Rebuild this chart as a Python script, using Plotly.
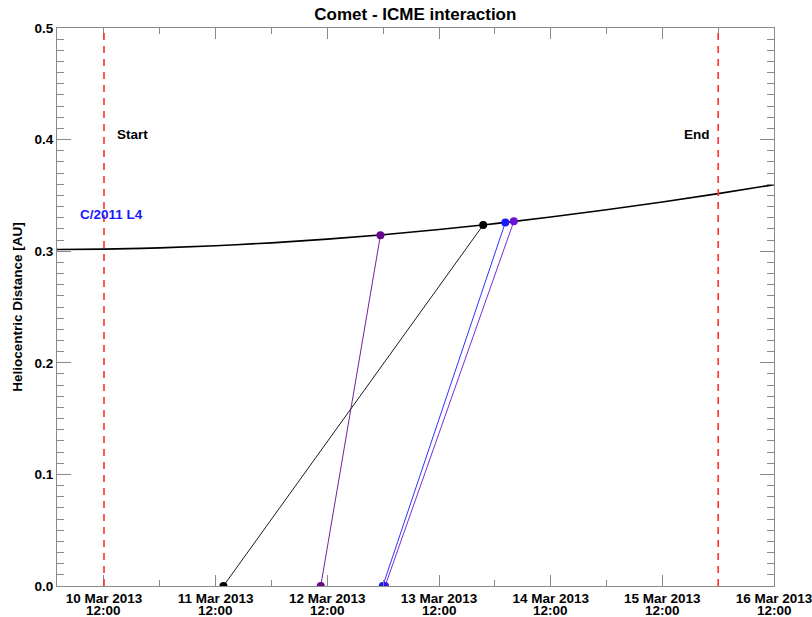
import plotly.graph_objects as go

# Heliocentric distance of comet C/2011 L4 along its orbit (AU)
comet_times = [
    "2013-03-10 01:54", "2013-03-10 12:00", "2013-03-11 00:00", "2013-03-11 12:00",
    "2013-03-12 00:00", "2013-03-12 12:00", "2013-03-13 00:00", "2013-03-13 12:00",
    "2013-03-14 00:00", "2013-03-14 12:00", "2013-03-15 00:00", "2013-03-15 12:00",
    "2013-03-16 00:00", "2013-03-16 12:00",
]
comet_dist = [
    0.3015, 0.3019, 0.3030, 0.3049,
    0.3075, 0.3108, 0.3148, 0.3194,
    0.3247, 0.3306, 0.3371, 0.3441,
    0.3516, 0.3596,
]

# ICME events: launch time (at the Sun) and arrival time/distance at the comet
icme_launch = ["2013-03-11 13:40", "2013-03-12 10:35", "2013-03-13 00:25", "2013-03-12 23:55"]
icme_arrival = ["2013-03-13 21:30", "2013-03-12 23:25", "2013-03-14 04:05", "2013-03-14 02:15"]
icme_arrival_dist = [0.3235, 0.3144, 0.3268, 0.3257]
icme_colors = ["#000000", "#66088a", "#6a14d4", "#1a1aff"]

# Interaction window
window_times = ["2013-03-10 12:00", "2013-03-16 00:00"]
window_labels = ["Start", "End"]

# Axis ticks
tick_days = ["2013-03-%02d 12:00" % d for d in range(10, 17)]
tick_dates = ["%d Mar 2013" % d for d in range(10, 17)]
tick_hour = "12:00"
minor_days = ["2013-03-%02d 00:00" % d for d in range(11, 17)]

FONT = "Liberation Sans, Arial, sans-serif"
AXIS_GREY = "#8a8a8a"
BOLD13 = dict(family=FONT, size=13.5, color="black", weight="bold")

fig = go.Figure()

fig.add_trace(go.Scatter(
    x=comet_times, y=comet_dist, mode="lines",
    line=dict(color="black", width=1.6, shape="spline", smoothing=1.0),
    hoverinfo="skip", showlegend=False,
))

for t0, t1, r1, c in zip(icme_launch, icme_arrival, icme_arrival_dist, icme_colors):
    fig.add_trace(go.Scatter(
        x=[t0, t1], y=[0, r1], mode="lines+markers",
        line=dict(color=c, width=0.9),
        marker=dict(color=c, size=8),
        cliponaxis=True, showlegend=False,
    ))

for t in window_times:
    fig.add_shape(type="line", xref="x", yref="paper", x0=t, x1=t, y0=0, y1=1,
                  line=dict(color="#ff3030", width=1.6, dash="7px,6px"))

label_pos = [("2013-03-10 14:20", 0.405), ("2013-03-15 16:15", 0.405)]
for (lx, ly), txt in zip(label_pos, window_labels):
    fig.add_annotation(x=lx, y=ly, text=txt, showarrow=False, xanchor="left",
                       yanchor="middle", font=BOLD13)

fig.add_annotation(x="2013-03-10 06:25", y=0.333, text="C/2011 L4", showarrow=False,
                   xanchor="left", yanchor="middle",
                   font=dict(family=FONT, size=13.5, color="#1a1aff", weight="bold"))

# second line of the date labels, set tight under the first
for t in tick_days:
    fig.add_annotation(x=t, xref="x", y=-0.0445, yref="paper", text=tick_hour,
                       showarrow=False, xanchor="center", yanchor="middle",
                       font=BOLD13)

fig.update_layout(
    width=812, height=617,
    margin=dict(l=57, r=38, t=28, b=31),
    paper_bgcolor="white", plot_bgcolor="white",
    font=BOLD13,
    title=dict(text="Comet - ICME interaction", x=0.5115, xanchor="center",
               y=0.977, yanchor="middle",
               font=dict(family=FONT, size=17, color="black", weight="bold")),
)

fig.update_xaxes(
    range=["2013-03-10 01:54", "2013-03-16 12:00"],
    automargin=False, ticklabeloverflow="allow",
    tickmode="array", tickvals=tick_days, ticktext=tick_dates,
    ticks="inside", ticklen=11, tickcolor=AXIS_GREY, tickwidth=1,
    showline=True, linecolor=AXIS_GREY, linewidth=1, mirror="allticks",
    showgrid=False, zeroline=False,
    tickfont=BOLD13,
    minor=dict(tickmode="array", tickvals=minor_days, ticks="inside", ticklen=6,
               tickcolor=AXIS_GREY, showgrid=False),
)

fig.update_yaxes(
    range=[0, 0.5],
    automargin=False,
    tickmode="linear", tick0=0, dtick=0.1, tickformat=".1f",
    ticks="inside", ticklen=14, tickcolor=AXIS_GREY, tickwidth=1,
    showline=True, linecolor=AXIS_GREY, linewidth=1, mirror="allticks",
    showgrid=False, zeroline=False,
    tickfont=BOLD13,
    title=dict(text="Heliocentric Distance [AU]", standoff=8, font=BOLD13),
    minor=dict(tickmode="linear", tick0=0, dtick=0.01, ticks="inside", ticklen=7,
               tickcolor=AXIS_GREY, showgrid=False),
)

fig.write_html("out.html")
